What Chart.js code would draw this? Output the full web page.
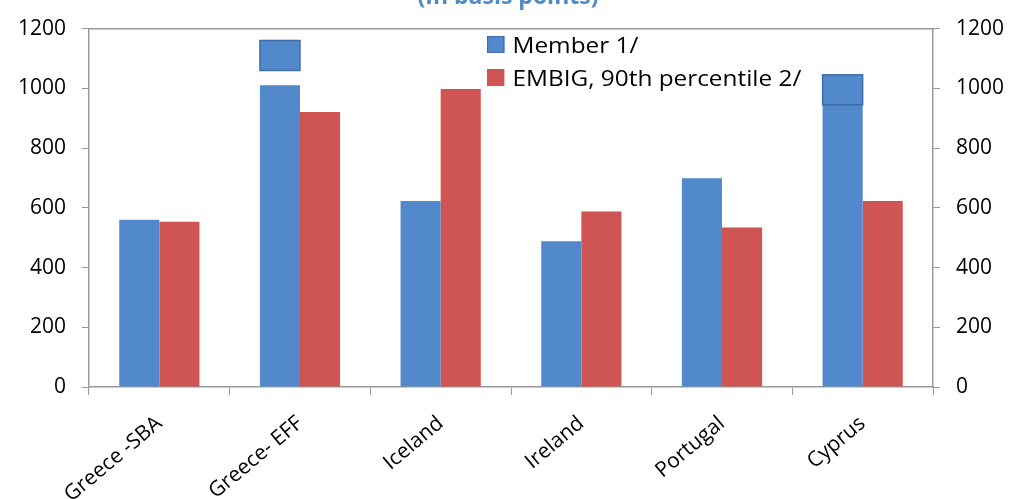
<!DOCTYPE html>
<html>
<head>
<meta charset="utf-8">
<script src="https://cdn.jsdelivr.net/npm/chart.js@4.4.0/dist/chart.umd.min.js"></script>
<style>
body{margin:0;background:#fff;}
#wrap{position:relative;width:1016px;height:499px;overflow:hidden;}
#title{position:absolute;left:0;width:1016px;top:-21px;text-align:center;font:bold 23px 'Open Sans';color:#4f8bc4;}
#legend{position:absolute;left:487px;top:28px;font:21px 'Open Sans';color:#000;transform:scaleX(1.16);transform-origin:left top;}
.item{height:33px;display:flex;align-items:center;}
.box{width:15px;height:17px;margin-right:7px;box-sizing:border-box;}
</style>
</head>
<body>
<div id="wrap">
<canvas id="myChart" width="1016" height="499"></canvas>
<div id="title">(In basis points)</div>
<div id="legend"></div>
</div>
<script>
// chart data
const categories = ['Greece -SBA', 'Greece- EFF', 'Iceland', 'Ireland', 'Portugal', 'Cyprus'];
const member = [560, 1010, 623, 488, 699, 1010];
const embig = [553, 921, 998, 588, 534, 623];
// the square markers drawn over the member bars
const markers = [null, 1110, null, null, null, 995];
const seriesNames = ['Member 1/', 'EMBIG, 90th percentile 2/'];

const blue = '#5289cd';
const blueDark = '#3d6ca8';
const red = '#cf5552';
const axisGray = '#9a9a9a';

Chart.defaults.font.family = "'Open Sans'";
Chart.defaults.color = '#000';

// draws the blue squares centred on the member bars
const markerPlugin = {
   id: 'markers',
   afterDatasetsDraw(chart) {
      const ctx = chart.ctx;
      const bars = chart.getDatasetMeta(0).data;
      const y = chart.scales.y;
      markers.forEach(function(v, i) {
         if (v == null) return;
         const cx = bars[i].x;
         const cy = y.getPixelForValue(v);
         ctx.save();
         ctx.fillStyle = blue;
         ctx.strokeStyle = blueDark;
         ctx.lineWidth = 1.5;
         ctx.fillRect(cx - 20, cy - 15, 40, 30);
         ctx.strokeRect(cx - 20, cy - 15, 40, 30);
         ctx.restore();
      });
   }
};

const plainTick = function(v) { return String(v); };

const ctx = document.getElementById('myChart').getContext('2d');
const myChart = new Chart(ctx, {
   type: 'bar',
   data: {
      labels: categories,
      datasets: [{
         label: seriesNames[0],
         data: member,
         backgroundColor: blue,
         borderWidth: 0,
         yAxisID: 'y'
      }, {
         label: seriesNames[1],
         data: embig,
         backgroundColor: red,
         borderWidth: 0,
         yAxisID: 'y'
      }]
   },
   options: {
      responsive: false,
      animation: false,
      categoryPercentage: 0.57,
      barPercentage: 1.0,
      layout: { padding: { top: 25, left: 0, right: 0, bottom: 0 } },
      plugins: {
         legend: { display: false },
         tooltip: { enabled: false }
      },
      scales: {
         x: {
            position: 'bottom',
            offset: true,
            grid: { display: true, drawOnChartArea: false, offset: true, tickLength: 8, color: axisGray },
            border: { color: axisGray, width: 1.5 },
            ticks: { font: { size: 21 }, minRotation: 40, maxRotation: 40, padding: 16 },
            afterFit(s) { s.height = 112; }
         },
         x2: {
            type: 'category',
            labels: categories,
            position: 'top',
            grid: { display: false },
            border: { color: axisGray, width: 1.5 },
            ticks: { display: false },
            afterFit(s) { s.height = 0; }
         },
         y: {
            position: 'left',
            min: 0,
            max: 1200,
            ticks: { stepSize: 200, font: { size: 21 }, padding: 16, callback: plainTick },
            grid: { drawOnChartArea: false, tickLength: 7, color: axisGray },
            border: { color: axisGray, width: 1.5 },
            afterFit(s) { s.width = 89; }
         },
         y2: {
            position: 'right',
            min: 0,
            max: 1200,
            ticks: { stepSize: 200, font: { size: 21 }, padding: 16, callback: plainTick },
            grid: { drawOnChartArea: false, tickLength: 7, color: axisGray },
            border: { color: axisGray, width: 1.5 },
            afterFit(s) { s.width = 83; }
         }
      }
   },
   plugins: [markerPlugin]
});

// legend as html, built from the datasets
const legend = document.getElementById('legend');
myChart.data.datasets.forEach(function(ds, i) {
   const item = document.createElement('div');
   item.className = 'item';
   const box = document.createElement('span');
   box.className = 'box';
   box.style.background = ds.backgroundColor;
   if (i == 0) box.style.border = '1.5px solid ' + blueDark;
   item.appendChild(box);
   item.appendChild(document.createTextNode(ds.label));
   legend.appendChild(item);
});
</script>
</body>
</html>
